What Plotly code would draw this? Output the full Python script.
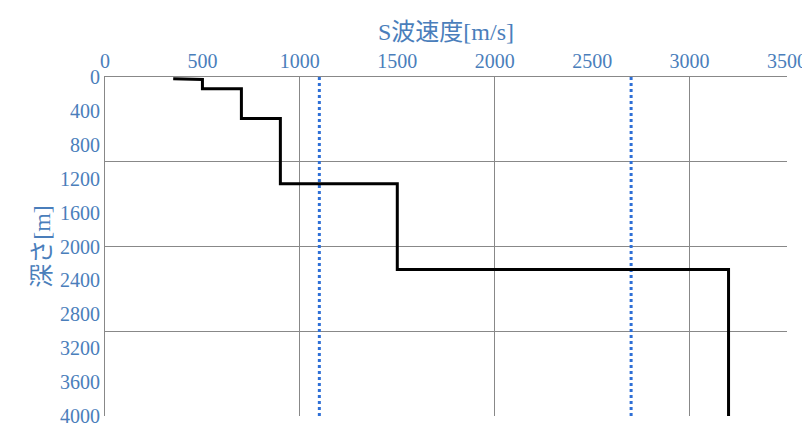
import plotly.graph_objects as go

vs = [350, 500, 700, 900, 1500, 3200]
top_depth = [20, 30, 140, 490, 1260, 2270]
bottom_depth = [30, 140, 490, 1260, 2270, 4000]
ref_lines = [1100, 2700]

xs, ys = [], []
for i, v in enumerate(vs):
    if i == 0:
        xs += [vs[0], vs[1]]; ys += [top_depth[0], bottom_depth[0]]
        continue
    xs += [v, v]; ys += [top_depth[i], bottom_depth[i]]
    if i + 1 < len(vs):
        xs.append(vs[i + 1]); ys.append(bottom_depth[i])

blue = "#4a7ebb"
fig = go.Figure()
for r in ref_lines:
    fig.add_trace(go.Scatter(x=[r, r], y=[0, 4000], mode="lines",
                             line=dict(color="#2e6fd6", width=3, dash="dot"), xaxis="x", yaxis="y"))
fig.add_trace(go.Scatter(x=xs, y=ys, mode="lines", line=dict(color="black", width=3)))
fig.add_trace(go.Scatter(x=[0], y=[0], mode="markers", marker=dict(opacity=0), xaxis="x2", yaxis="y2", hoverinfo="skip"))

font = dict(family="Liberation Serif", size=20, color=blue)
fig.update_layout(
    width=810, height=426, showlegend=False, plot_bgcolor="white", paper_bgcolor="white",
    margin=dict(l=97, r=31, t=69, b=18), font=font,
    xaxis=dict(side="top", range=[0, 3500], dtick=500, showgrid=False, showline=True, linecolor="#888",
               ticks="", zeroline=False, automargin=False,
               title=dict(text="S波速度[m/s]", font=dict(family="Liberation Serif, Noto Sans CJK JP", size=24, color=blue), standoff=2)),
    yaxis=dict(range=[4000, 0], dtick=400, showgrid=False, showline=True, linecolor="#888", ticks="",
               zeroline=False, automargin=False,
               title=dict(text="深さ[m]", font=dict(family="Liberation Serif, Noto Sans CJK JP", size=24, color=blue), standoff=2)),
    xaxis2=dict(overlaying="x", range=[0, 3500], dtick=1000, showgrid=True, gridcolor="#888", gridwidth=1,
                showticklabels=False, zeroline=False, side="bottom", automargin=False),
    yaxis2=dict(overlaying="y", range=[4000, 0], dtick=1000, showgrid=True, gridcolor="#888", gridwidth=1,
                showticklabels=False, zeroline=False, side="right", automargin=False),
)
fig.update_layout(xaxis2_layer="below traces", yaxis2_layer="below traces")
fig.write_html("out.html")
